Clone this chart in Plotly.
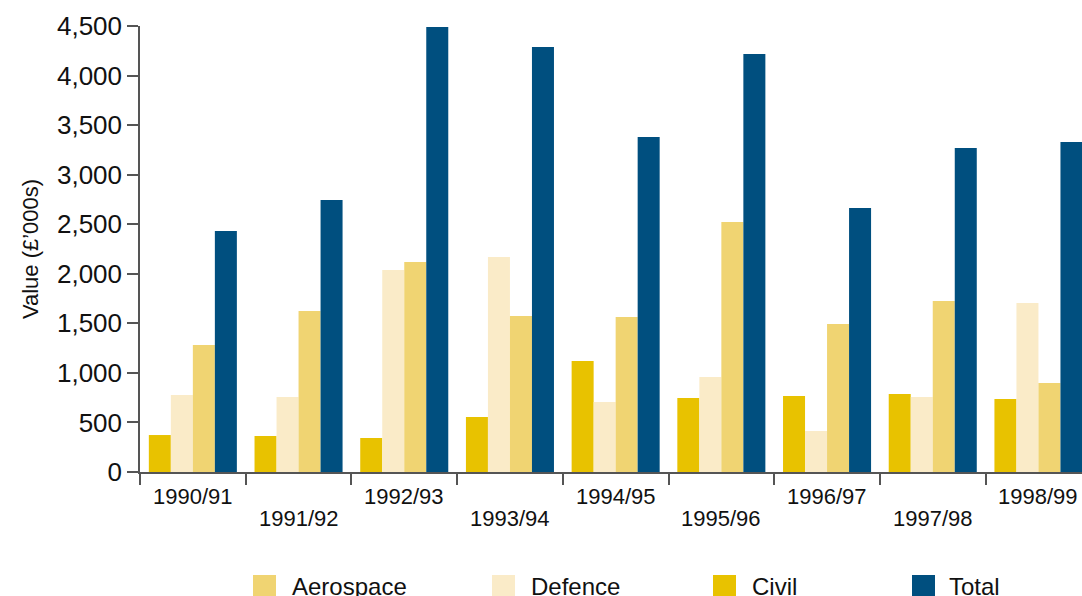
import plotly.graph_objects as go

# Financial years on the category axis
years = ["1990/91", "1991/92", "1992/93", "1993/94", "1994/95",
         "1995/96", "1996/97", "1997/98", "1998/99"]

# Values in £'000s
civil = [373, 363, 343, 555, 1120, 747, 767, 787, 737]
defence = [777, 757, 2038, 2169, 706, 959, 414, 757, 1705]
aerospace = [1281, 1625, 2119, 1574, 1564, 2523, 1493, 1725, 898]
total = [2432, 2745, 4490, 4288, 3380, 4218, 2664, 3269, 3330]

y_ticks = [0, 500, 1000, 1500, 2000, 2500, 3000, 3500, 4000, 4500]

COL_CIVIL = "#E8C200"
COL_DEFENCE = "#FAEBC8"
COL_AERO = "#F0D472"
COL_TOTAL = "#004F7F"
AXIS = "#555555"
FONT = "Liberation Sans, Arial, sans-serif"

W, H = 1082, 596
M_L, M_R, M_T, M_B = 140, 0, 26, 124
PW, PH = W - M_L - M_R, H - M_T - M_B
CAT_W = 105.7  # pixel width of one category slot

fig = go.Figure()
for name, vals, col in [("Civil", civil, COL_CIVIL),
                        ("Defence", defence, COL_DEFENCE),
                        ("Aerospace", aerospace, COL_AERO),
                        ("Total", total, COL_TOTAL)]:
    fig.add_bar(x=years, y=vals, name=name, marker_color=col,
                marker_line_width=0, showlegend=False)

x_hi = -0.5 + PW / CAT_W

# Category labels staggered on two rows
for i, yr in enumerate(years):
    fig.add_annotation(x=yr, xref="x", y=0, yref="paper", text=yr,
                       showarrow=False, yanchor="middle", xanchor="center",
                       yshift=-24 if i % 2 == 0 else -46,
                       font=dict(size=22, color="#111111", family=FONT))


def px_x(p):
    return (p - M_L) / PW


def px_y(p):
    return (H - M_B - p) / PH


# Legend row beneath the chart
legend_items = [("Aerospace", COL_AERO, 253, 290),
                ("Defence", COL_DEFENCE, 492, 529),
                ("Civil", COL_CIVIL, 713, 750),
                ("Total", COL_TOTAL, 912, 947)]
for label, col, sx, tx in legend_items:
    fig.add_shape(type="rect", xref="paper", yref="paper",
                  x0=px_x(sx), x1=px_x(sx + 23), y0=px_y(575), y1=px_y(598),
                  fillcolor=col, line_width=0, layer="above")
    fig.add_annotation(x=px_x(tx), xref="paper", y=px_y(586), yref="paper",
                       text=label, showarrow=False, xanchor="left",
                       yanchor="middle",
                       font=dict(size=24, color="#111111", family=FONT))

fig.update_layout(
    width=W, height=H,
    margin=dict(l=M_L, r=M_R, t=M_T, b=M_B, pad=0),
    paper_bgcolor="white", plot_bgcolor="white",
    barmode="group", bargap=0.167, bargroupgap=0,
    font=dict(family=FONT, color="#111111"),
    xaxis=dict(type="category", range=[-0.5, x_hi], showgrid=False,
               showline=True, linecolor=AXIS, linewidth=1.5,
               ticks="outside", tickson="boundaries", ticklen=11,
               tickwidth=1.5, tickcolor=AXIS, showticklabels=False,
               zeroline=False, fixedrange=True),
    yaxis=dict(range=[0, 4500], tickvals=y_ticks, tickformat=",d",
               showgrid=False, zeroline=False, showline=True,
               linecolor=AXIS, linewidth=1.5, ticks="outside", ticklen=11,
               tickwidth=1.5, tickcolor=AXIS,
               tickfont=dict(size=26, color="#111111", family=FONT),
               title=dict(text="Value (£’000s)", standoff=12,
                          font=dict(size=22, color="#111111", family=FONT))),
)

fig.write_html("out.html")
